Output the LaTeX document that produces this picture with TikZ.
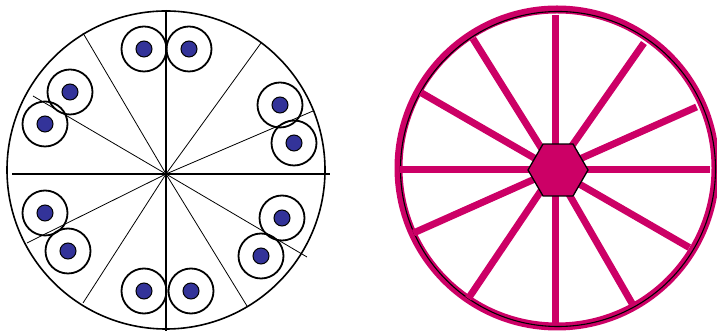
\documentclass[tikz,border=0pt]{standalone}
\usepackage{tikz}
\usetikzlibrary{shapes.geometric}

\definecolor{dotblue}{HTML}{333399}
\definecolor{rim}{HTML}{CC0066}

\begin{document}
\begin{tikzpicture}[x=1pt, y=1pt,
  coil/.style={draw, circle, line width=1.8pt, minimum size=45pt, inner sep=0pt},
  wire/.style={draw, circle, fill=dotblue, line width=1pt, minimum size=16pt, inner sep=0pt},
  ray/.style={line width=0.8pt},
  spoke/.style={rim, line width=7pt},
  hubbox/.style={regular polygon, regular polygon sides=6, draw, fill=rim, line width=1.3pt, minimum size=60pt, inner sep=0pt}
]
\useasboundingbox (0,0) rectangle (717,331);

% Left disc with the radial lines
\draw[line width=1.6pt] (166,161) circle (159);
\coordinate (lc) at (166,157);
\draw[line width=2.4pt] (166,321) -- (166,0);
\draw[line width=1.1pt] (12,157) -- (330,157);
\foreach \p in {(83,298),(261,288),(83,28),(247,25),(33,235),(313,220),(27,88),(307,74)}
  \draw[ray] (lc) -- \p;

% Coils in pairs
\node[coil] (c1) at (144,282) {};
\node[coil] (c2) at (189,282) {};
\node[coil] (c3) at (70,239) {};
\node[coil] (c4) at (45,207) {};
\node[coil] (c5) at (280,226) {};
\node[coil] (c6) at (294,188) {};
\node[coil] (c7) at (45,118) {};
\node[coil] (c8) at (68,80) {};
\node[coil] (c9) at (282,113) {};
\node[coil] (c10) at (261,75) {};
\node[coil] (c11) at (144,40) {};
\node[coil] (c12) at (191,40) {};
\foreach \i in {1,...,12}
  \node[wire] (w\i) at (c\i) {};

% Right wheel
\draw[rim, line width=8pt] (557,163) circle (158.5);
\draw[line width=1.1pt] (558,162) circle (157.5);
\coordinate (wc) at (555,161);
\foreach \a in {0,24,55,90,122,150,180,204,236,270,300,330}
  \draw[spoke] (wc) -- ++(\a:155);
\node[hubbox] (hub) at (558,161) {};

\end{tikzpicture}
\end{document}
